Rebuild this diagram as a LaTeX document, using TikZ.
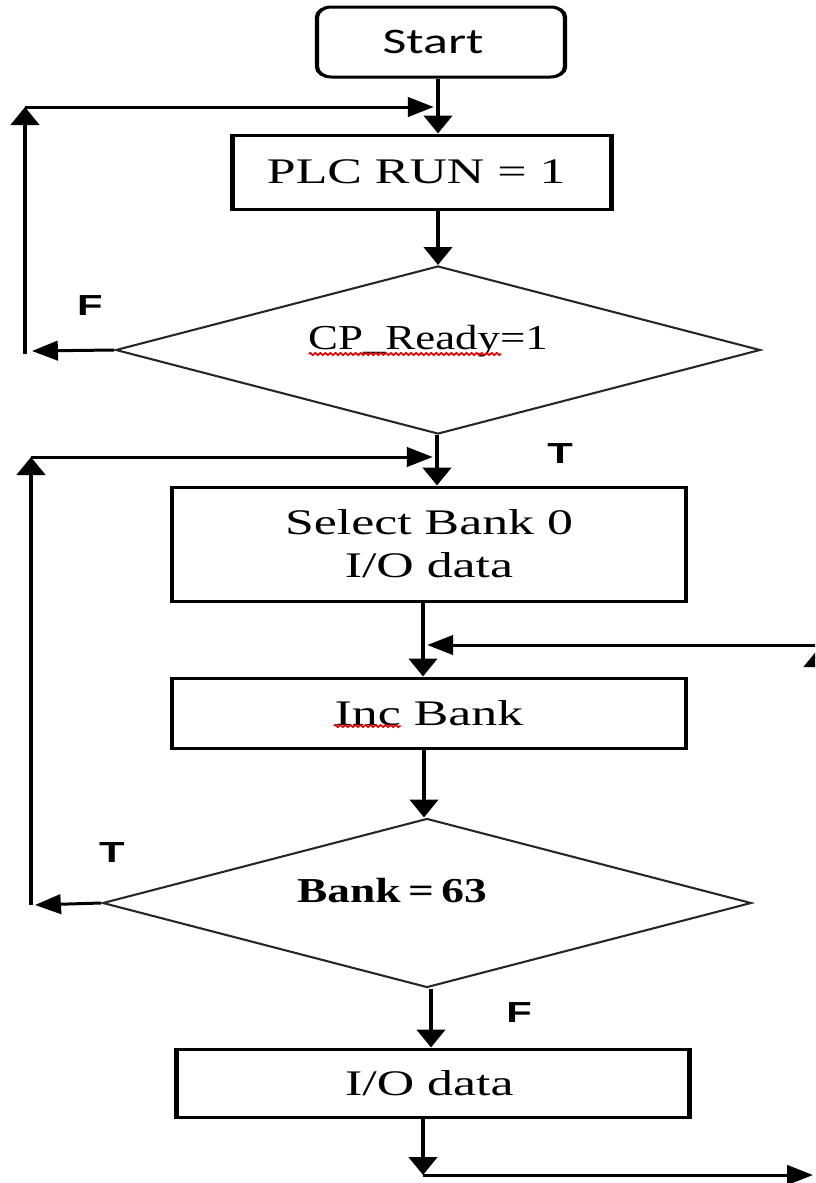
\documentclass[tikz,border=0pt]{standalone}
\usepackage{fontspec}
\setmainfont{Liberation Serif}
\newfontfamily\labelfont{Liberation Sans}
\newfontfamily\startfont{Carlito}
\usetikzlibrary{shapes.geometric,arrows.meta,decorations.pathmorphing}

\tikzset{
  box/.style={draw, line width=3pt, inner sep=0pt, align=center,
              font=\fontsize{36}{43}\selectfont},
  decision/.style={diamond, draw=black!85, line width=2pt, inner sep=0pt},
  flow/.style={line width=3pt, -{Triangle[length=18pt,width=19.5pt]}},
  tf/.style={font=\labelfont\bfseries\fontsize{29}{29}\selectfont, anchor=base, inner sep=0pt},
  cond/.style={font=\fontsize{35}{40}\selectfont, anchor=base, inner sep=0pt},
  spell/.style={draw=red!90!black, line width=1.4pt, decorate,
                decoration={zigzag, amplitude=1.1pt, segment length=3.5pt}}
}

\begin{document}
\begin{tikzpicture}[x=1pt,y=-1pt]
\useasboundingbox (0,0) rectangle (815,1183);
\fill[white] (0,0) rectangle (815,1183);
\clip (0,0) rectangle (815,1183);

% everything is drawn on a canvas stretched horizontally
\begin{scope}[x=0.694444pt, y=-1pt, transform canvas={xscale=1.44}]

  % ---- process boxes ----
  \node[box, rounded corners=10pt, minimum width=172.2pt, minimum height=70pt,
        font=\startfont\fontsize{36}{36}\selectfont] (start) at (441,42)
        {\kern-11pt Start};
  \node[box, minimum width=263.2pt, minimum height=74pt] (plc) at (422,172)
        {\kern-8pt PLC RUN = 1};
  \node[box, minimum width=357pt, minimum height=114pt] (sel) at (429,544)
        {Select Bank 0\\I/O data};
  \node[box, minimum width=357pt, minimum height=70pt] (inc) at (429,713) {Inc Bank};
  \node[box, minimum width=356.2pt, minimum height=68pt] (io) at (433,1083)
        {\kern-5pt I/O data};

  % ---- decisions ----
  \node[decision, minimum width=447.9pt, minimum height=168pt] (d1) at (438,350) {};
  \node[cond] (d1txt) at (428,349) {\scalebox{0.89}[1]{CP\_Ready=1}};
  \node[decision, minimum width=450.7pt, minimum height=169pt] (d2) at (427,903) {};
  \node[cond, font=\bfseries\fontsize{35}{40}\selectfont] (d2txt) at (392,902)
        {\scalebox{0.9}[1]{Bank\,=\,63}};

  % spell-check marks
  \draw[spell] (309,354) -- (501,354);
  \draw[spell] (334,726) -- (401,726);

  % ---- branch labels ----
  \node[tf] (f1) at (90,315) {F};
  \node[tf] (t1) at (560,463) {T};
  \node[tf] (t2) at (112,862) {T};
  \node[tf] (f2) at (519,1022) {F};

  % ---- junction and corner points ----
  \coordinate (k1) at (438,107);
  \coordinate (l1) at (25,107);
  \coordinate (l1b) at (25,354);
  \coordinate (e1) at (32,351);
  \coordinate (k2) at (437,457);
  \coordinate (l2) at (31,457);
  \coordinate (l2b) at (31,905);
  \coordinate (e2) at (35,905);
  \coordinate (k3) at (423,645);
  \coordinate (r1) at (818,645);
  \coordinate (r1t) at (818,649);
  \coordinate (k4) at (424,760);
  \coordinate (k5) at (431,1000);
  \coordinate (k6) at (423,1175);
  \coordinate (r1b) at (818,1175);

  % ---- main flow ----
  \draw[flow] (start.south -| k1) -- (plc.north -| k1);
  \draw[flow] (plc.south -| k1) -- (d1.north -| k1);
  \draw[flow] (d1.south -| k2) -- (sel.north -| k2);
  \draw[flow] (sel.south -| k3) -- (inc.north -| k3);
  \draw[flow] (inc.south -| k4) -- (d2.north -| k4);
  \draw[flow] (d2.south -| k5) -- (io.north -| k5);
  \draw[flow] (io.south -| k6) -- (k6);

  % ---- loop back to PLC RUN ----
  \draw[flow] (d1.west) -- (e1);
  \draw[flow] (l1b) -- (l1);
  \draw[flow, shorten >=3pt] (l1) -- (k1);

  % ---- loop back to Select Bank ----
  \draw[flow] (d2.west) -- (e2);
  \draw[flow] (l2b) -- (l2);
  \draw[flow, shorten >=3pt] (l2) -- (k2);

  % ---- loop back to Inc Bank ----
  \draw[flow, shorten >=3.5pt] (k6) -- (r1b);
  \draw[flow] (r1b) -- (r1t);
  \draw[flow, shorten >=3pt] (r1) -- (k3);
\end{scope}
\end{tikzpicture}
\end{document}
